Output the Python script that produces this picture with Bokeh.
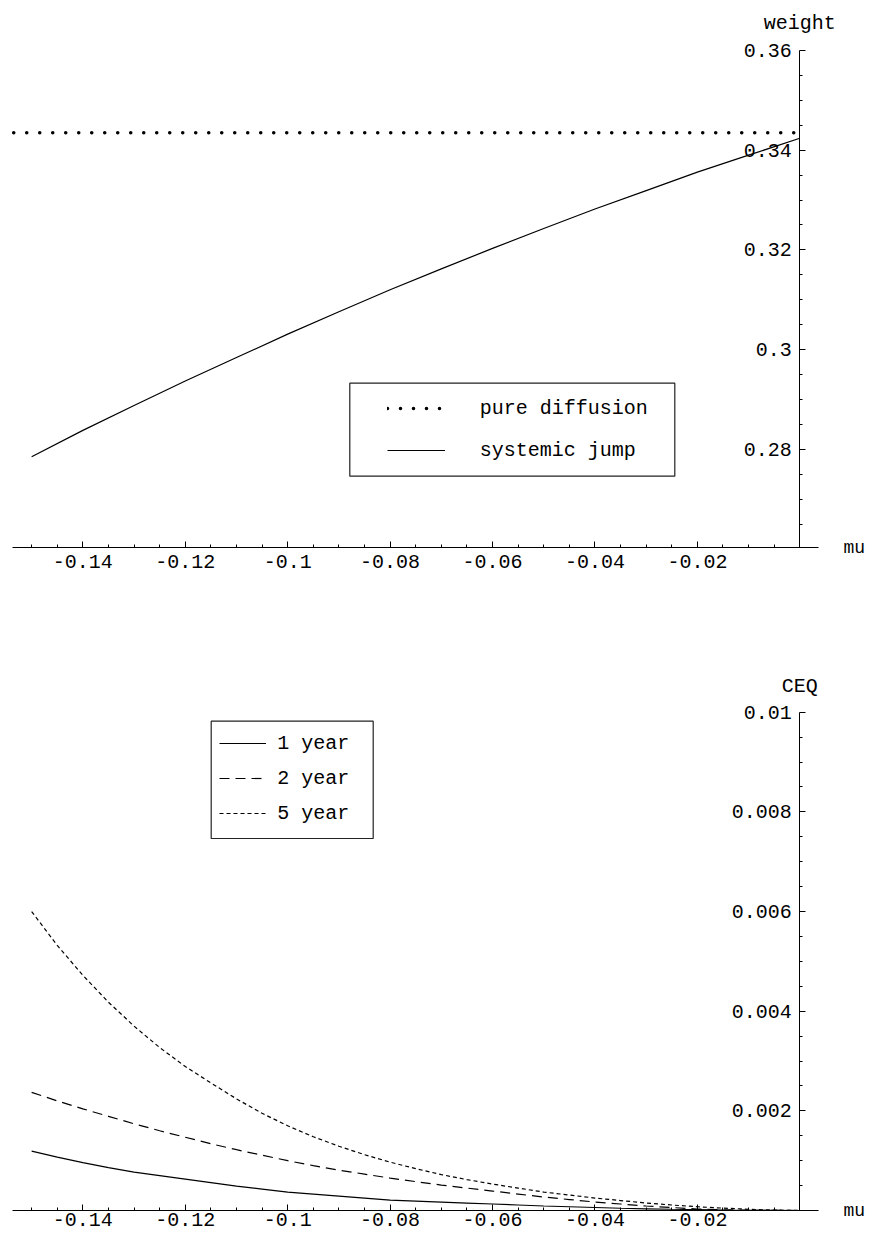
from bokeh.plotting import figure
from bokeh.layouts import column
from bokeh.models import FixedTicker, Range1d, Legend, LegendItem, BoxAnnotation
from bokeh.core.properties import value
from bokeh.embed import file_html
from bokeh.resources import INLINE
import numpy as np

# ---------------- data ----------------
mu_diffusion = [-0.1535, 0.0]
weight_pure_diffusion = [0.3435, 0.3435]

mu_weight = [-0.15, -0.14, -0.13, -0.12, -0.11, -0.10, -0.09, -0.08,
             -0.07, -0.06, -0.05, -0.04, -0.03, -0.02, -0.01, 0.0]
weight_systemic_jump = [0.2785, 0.2838, 0.2888, 0.2937, 0.2984, 0.3031, 0.3076, 0.3120,
                        0.3162, 0.3203, 0.3243, 0.3282, 0.3319, 0.3356, 0.3390, 0.3424]

mu_ceq = [-0.150, -0.145, -0.140, -0.135, -0.130, -0.125, -0.120, -0.115, -0.110, -0.105,
          -0.100, -0.095, -0.090, -0.085, -0.080, -0.075, -0.070, -0.065, -0.060, -0.055,
          -0.050, -0.045, -0.040, -0.035, -0.030, -0.025, -0.020, -0.015, -0.010, -0.005, 0.0]
ceq_1year = [0.00119, 0.00107, 0.00096, 0.00086, 0.00077, 0.00070, 0.00063, 0.00056, 0.00049, 0.00043,
             0.00037, 0.00033, 0.00029, 0.00025, 0.00021, 0.00019, 0.00017, 0.00015, 0.00013, 0.00011,
             0.00009, 0.000075, 0.00006, 0.000045, 0.000034, 0.000025, 0.000017, 0.00001, 0.000005,
             0.000002, 0.0]
ceq_2year = [0.00237, 0.00220, 0.00204, 0.00189, 0.00174, 0.00160, 0.00147, 0.00134, 0.00122, 0.00111,
             0.00100, 0.00090, 0.00081, 0.00073, 0.00065, 0.00058, 0.00051, 0.00045, 0.00039, 0.00033,
             0.00027, 0.00022, 0.00017, 0.00013, 0.00009, 0.00006, 0.00003, 0.000015, 0.000006,
             0.000002, 0.0]
ceq_5year = [0.00600, 0.00532, 0.00472, 0.00418, 0.00370, 0.00327, 0.00289, 0.00256, 0.00224, 0.00195,
             0.00170, 0.00148, 0.00129, 0.00112, 0.00097, 0.00084, 0.00072, 0.00062, 0.00053, 0.00045,
             0.00037, 0.00031, 0.00025, 0.00020, 0.00015, 0.00011, 0.000075, 0.000048, 0.000025,
             0.000008, 0.0]

x_ticks = [-0.14, -0.12, -0.10, -0.08, -0.06, -0.04, -0.02]
x_tick_labels = ["-0.14", "-0.12", "-0.1", "-0.08", "-0.06", "-0.04", "-0.02"]
weight_ticks = [0.28, 0.30, 0.32, 0.34, 0.36]
weight_tick_labels = ["0.28", "0.3", "0.32", "0.34", "0.36"]
ceq_ticks = [0.002, 0.004, 0.006, 0.008, 0.01]
ceq_tick_labels = ["0.002", "0.004", "0.006", "0.008", "0.01"]

# ---------------- geometry (page pixels) ----------------
PAGE = 0
W = 870
H1, H2 = 588, 648
TOP1 = PAGE
TOP2 = PAGE + H1
X0_PX, X_PPU = 799.3, 5121.0          # mu = 0 location, px per unit
Y1_REF, Y1_PX, Y1_PPU = 0.36, 50.0, 4985.0
Y2_PX, Y2_PPU = 1210.0, 49830.0        # CEQ = 0 location


def px2x(px):
    return (px - X0_PX) / X_PPU


def px2y1(py):
    return Y1_REF - (py - Y1_PX) / Y1_PPU


def px2y2(py):
    return (Y2_PX - py) / Y2_PPU


FONT = "Liberation Mono"
x_bounds = (px2x(11.7), px2x(818.0))
x_major_r = [round(t, 3) for t in x_ticks]
x_minor = [round(v, 3) for v in np.arange(-0.15, 0.0, 0.005) if round(v, 3) not in x_major_r]


def make_fig(height, top_page, yfun, y_axis_lo, y_axis_hi, yticks, ylabels, yminor, x_standoff):
    p = figure(width=W, height=height, output_backend="svg", toolbar_location=None,
               x_range=Range1d(px2x(PAGE), px2x(PAGE + W)),
               y_range=Range1d(yfun(top_page + height), yfun(top_page)),
               min_border_left=0, min_border_right=0, min_border_top=0, min_border_bottom=0)
    p.outline_line_color = None
    p.xgrid.visible = False
    p.ygrid.visible = False
    p.background_fill_color = "white"
    p.border_fill_color = "white"

    xa = p.xaxis[0]
    xa.fixed_location = y_axis_lo
    xa.bounds = x_bounds
    xa.ticker = FixedTicker(ticks=x_ticks, minor_ticks=x_minor)
    xa.major_label_overrides = dict(zip(x_ticks, x_tick_labels))
    ya = p.yaxis[0]
    ya.fixed_location = 0
    ya.bounds = (y_axis_lo, y_axis_hi)
    ya.ticker = FixedTicker(ticks=yticks, minor_ticks=yminor)
    ya.major_label_overrides = dict(zip(yticks, ylabels))
    for ax in (xa, ya):
        ax.axis_line_color = "black"
        ax.axis_line_width = 1
        ax.major_tick_line_color = "black"
        ax.minor_tick_line_color = "black"
        ax.major_tick_out = 0
        ax.minor_tick_out = 0
        ax.major_tick_in = 6
        ax.minor_tick_in = 3
        ax.major_label_text_font = FONT
        ax.major_label_text_font_size = "20px"
        ax.major_label_text_color = "black"
    xa.major_label_standoff = x_standoff
    ya.major_label_standoff = 8
    return p


# ---------------- top: weight ----------------
w_lo = px2y1(547.3)
w_major_r = [round(t, 3) for t in weight_ticks]
w_minor = [round(v, 3) for v in np.arange(0.265, 0.36, 0.005) if round(v, 3) not in w_major_r]
p1 = make_fig(H1, TOP1, px2y1, w_lo, 0.36, weight_ticks, weight_tick_labels, w_minor, 7)

r_diff = p1.line(mu_diffusion, weight_pure_diffusion, line_color="black", line_width=3.6,
                 line_dash="0 13", line_cap="round")
r_jump = p1.line(mu_weight, weight_systemic_jump, line_color="black", line_width=1.2)

p1.text(x=[0], y=[0.36], text=["weight"], text_font=value(FONT), text_font_size="20px",
        text_align="center", text_baseline="alphabetic", y_offset=-27, text_color="black")
p1.text(x=[x_bounds[1]], y=[w_lo], text=["mu"], text_font=value(FONT), text_font_size="18px",
        text_align="left", text_baseline="middle", x_offset=25, text_color="black")

p1.add_layout(BoxAnnotation(left=px2x(349.3), right=px2x(674.3), top=px2y1(382.7), bottom=px2y1(475.7),
                            fill_alpha=0, line_color="#222222", line_alpha=1.0, line_width=1.2))
leg1 = Legend(items=[LegendItem(label="pure diffusion", renderers=[r_diff]),
                     LegendItem(label="systemic jump", renderers=[r_jump])],
              location=(386.7 - PAGE, H1 - (396.3 - TOP1 + 66)),
              padding=0, margin=0, spacing=18, glyph_width=58, glyph_height=24, label_height=24,
              label_standoff=35, border_line_color=None, background_fill_alpha=0,
              label_text_font=FONT, label_text_font_size="20px", label_text_color="black")
p1.add_layout(leg1)

# ---------------- bottom: CEQ ----------------
c_major_r = [round(t, 4) for t in ceq_ticks]
c_minor = [round(v, 4) for v in np.arange(0.0005, 0.01, 0.0005) if round(v, 4) not in c_major_r]
p2 = make_fig(H2, TOP2, px2y2, 0.0, 0.01, ceq_ticks, ceq_tick_labels, c_minor, 2)

r1 = p2.line(mu_ceq, ceq_1year, line_color="black", line_width=1.2)
r2 = p2.line(mu_ceq, ceq_2year, line_color="black", line_width=1.2, line_dash="10 6")
r5 = p2.line(mu_ceq, ceq_5year, line_color="black", line_width=1.2, line_dash="4 3")

p2.text(x=[0], y=[0.01], text=["CEQ"], text_font=value(FONT), text_font_size="20px",
        text_align="center", text_baseline="alphabetic", y_offset=-26, text_color="black")
p2.text(x=[x_bounds[1]], y=[0.0], text=["mu"], text_font=value(FONT), text_font_size="18px",
        text_align="left", text_baseline="middle", x_offset=25, text_color="black")

p2.add_layout(BoxAnnotation(left=px2x(210.7), right=px2x(372.7), top=px2y2(720.7), bottom=px2y2(838.0),
                            fill_alpha=0, line_color="#222222", line_alpha=1.0, line_width=1.2))
leg2 = Legend(items=[LegendItem(label="1 year", renderers=[r1]),
                     LegendItem(label="2 year", renderers=[r2]),
                     LegendItem(label="5 year", renderers=[r5])],
              location=(219.3 - PAGE, H2 - (731.3 - TOP2 + 94)),
              padding=0, margin=0, spacing=11, glyph_width=47, glyph_height=24, label_height=24,
              label_standoff=11, border_line_color=None, background_fill_alpha=0,
              label_text_font=FONT, label_text_font_size="20px", label_text_color="black")
p2.add_layout(leg2)

layout = column(p1, p2, spacing=0)
open("out.html", "w").write(file_html(layout, INLINE))
